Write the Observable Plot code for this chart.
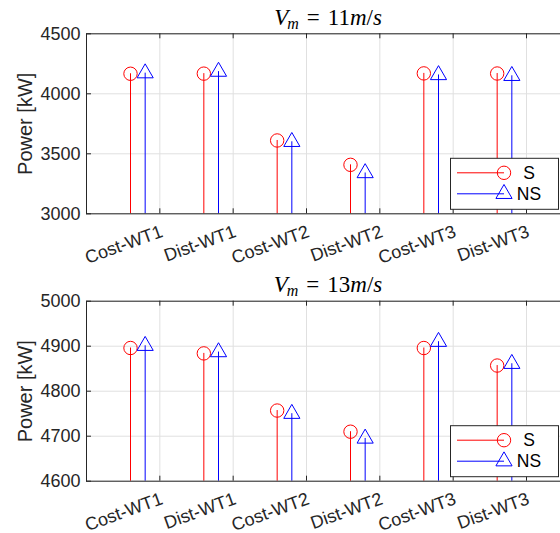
<!DOCTYPE html>
<html>
<head>
<meta charset="utf-8">
<script src="https://cdn.jsdelivr.net/npm/d3@7"></script>
<script src="https://cdn.jsdelivr.net/npm/@observablehq/plot@0.6"></script>
<style>
  html, body { margin: 0; padding: 0; background: #fff; overflow: hidden; }
  #chart { position: relative; width: 560px; height: 533px; overflow: hidden; }
  #chart svg { position: absolute; left: 0; overflow: visible; }
</style>
</head>
<body>
<div id="chart"></div>
<script>
// Wind-turbine power per strategy, S vs NS at two mean wind speeds
const categories = ["Cost-WT1", "Dist-WT1", "Cost-WT2", "Dist-WT2", "Cost-WT3", "Dist-WT3"];
const seriesNames = ["S", "NS"];
const windSpeeds = [11, 13];

// Vm = 11 m/s
const s11 = [4167, 4168, 3611, 3408, 4170, 4169];
const ns11 = [4172, 4185, 3600, 3340, 4157, 4150];
const yDomain11 = [3000, 4500];
const yTicks11 = [3000, 3500, 4000, 4500];

// Vm = 13 m/s
const s13 = [4896, 4884, 4757, 4710, 4896, 4857];
const ns13 = [4901, 4887, 4750, 4695, 4910, 4861];
const yDomain13 = [4600, 5000];
const yTicks13 = [4600, 4700, 4800, 4900, 5000];

const yLabel = "Power [kW]";

const INK = "#262626";
const GRID = "#e0e0e0";
const COLORS = {S: "#ff0000", NS: "#0000ff"};
const OFFSET = {S: -0.4, NS: -0.2};   // stems sit left of each category tick
const SANS = "'Liberation Sans', Arial, Helvetica, sans-serif";
const SERIF = "'Liberation Serif', 'Times New Roman', serif";

const chart = document.getElementById("chart");

function panel({top, height, marginTop, marginBottom, yDomain, yTicks, s, ns, speed}) {
  const width = 560, marginLeft = 86, marginRight = -10;
  const xDomain = [0, 6.6];
  const plotH = height - marginTop - marginBottom;
  const plotW = width - marginLeft - marginRight;
  const catTicks = categories.map((c, i) => i + 1);

  const rows = seriesNames.map((name, k) =>
    categories.map((c, i) => ({cat: c, idx: i + 1, series: name, value: (k === 0 ? s : ns)[i]}))
  );

  const stemMarks = rows.flatMap((data, k) => {
    const name = seriesNames[k];
    return [
      Plot.ruleX(data, {x: d => d.idx + OFFSET[name], y1: yDomain[0], y2: "value", stroke: COLORS[name], strokeWidth: 1}),
      Plot.dot(data, {
        x: d => d.idx + OFFSET[name], y: "value",
        symbol: name === "S" ? "circle" : "triangle",
        r: name === "S" ? 6.7 : 6,
        stroke: COLORS[name], fill: "none", strokeWidth: 1
      })
    ];
  });

  const plot = Plot.plot({
    width, height, marginTop, marginBottom, marginLeft, marginRight,
    style: {fontFamily: SANS, fontSize: "18px", color: INK, background: "transparent", overflow: "visible"},
    x: {type: "linear", domain: xDomain, axis: null},
    y: {type: "linear", domain: yDomain, axis: null},
    marks: [
      Plot.gridX(catTicks, {stroke: GRID, strokeOpacity: 1, strokeWidth: 1}),
      Plot.gridY(yTicks, {stroke: GRID, strokeOpacity: 1, strokeWidth: 1}),
      ...stemMarks,
      // inward tick marks on the box
      Plot.tickX(catTicks, {x: d => d, insetTop: plotH - 5, stroke: INK}),
      Plot.tickX(catTicks, {x: d => d, insetBottom: plotH - 5, stroke: INK}),
      Plot.tickY(yTicks, {y: d => d, insetRight: plotW - 5, stroke: INK}),
      Plot.frame({stroke: INK, strokeWidth: 1}),
      Plot.text(yTicks, {y: d => d, text: d => String(d), frameAnchor: "left", dx: -6, textAnchor: "end", fill: INK, fontSize: 18}),
      Plot.text(categories, {
        x: (d, i) => i + 1, text: d => d, frameAnchor: "bottom", rotate: -20,
        textAnchor: "end", lineAnchor: "middle", dx: 2, dy: 17, fill: INK, fontSize: 18
      }),
      Plot.text([yLabel], {frameAnchor: "left", rotate: -90, dx: -61, textAnchor: "middle", fill: INK, fontSize: 20})
    ]
  });

  plot.style.top = top + "px";
  chart.appendChild(plot);

  const svg = d3.select(plot);
  const xs = plot.scale("x");
  const left = xs.apply(xDomain[0]), right = xs.apply(xDomain[1]);
  const bottom = marginTop + plotH;

  // title: V_m = <speed> m/s, set in math style
  const t = svg.append("text")
    .attr("x", (left + right) / 2)
    .attr("y", marginTop - 8.3)
    .attr("text-anchor", "middle")
    .attr("font-family", SERIF)
    .attr("font-size", 23)
    .attr("fill", "#000");
  t.append("tspan").attr("font-style", "italic").text("V");
  t.append("tspan").attr("font-style", "italic").attr("font-size", 16).attr("dy", 4).attr("dx", -1).text("m");
  t.append("tspan").attr("dy", -4).attr("dx", 8).text("=");
  t.append("tspan").attr("dx", 8).text(String(speed));
  t.append("tspan").attr("font-style", "italic").text("m");
  t.append("tspan").text("/");
  t.append("tspan").attr("font-style", "italic").text("s");

  // legend box, lower right of the axes
  const lx0 = right - 119.5, lx1 = right - 11.5;
  const ly0 = bottom - 55, ly1 = bottom - 4;
  const g = svg.append("g");
  g.append("rect").attr("x", lx0).attr("y", ly0).attr("width", lx1 - lx0).attr("height", ly1 - ly0)
    .attr("fill", "#fff").attr("stroke", INK).attr("stroke-width", 1);
  const rowsY = {S: bottom - 40.5, NS: bottom - 19.5};
  seriesNames.forEach(name => {
    const y = rowsY[name];
    const mx = lx0 + 53.5;
    g.append("line").attr("x1", lx0 + 6.5).attr("x2", mx).attr("y1", y).attr("y2", y)
      .attr("stroke", COLORS[name]).attr("stroke-width", 1);
    const sym = name === "S" ? d3.symbolCircle : d3.symbolTriangle;
    const r = name === "S" ? 6.7 : 6;
    g.append("path").attr("d", d3.symbol(sym, Math.PI * r * r)())
      .attr("transform", `translate(${mx},${y})`)
      .attr("fill", "none").attr("stroke", COLORS[name]).attr("stroke-width", 1);
    g.append("text").attr("x", lx0 + 78.5).attr("y", y).attr("dy", "0.35em")
      .attr("font-family", SANS).attr("font-size", 17.5).attr("fill", "#000").text(name);
  });
}

panel({top: 0, height: 260, marginTop: 33.3, marginBottom: 46.7, yDomain: yDomain11, yTicks: yTicks11, s: s11, ns: ns11, speed: windSpeeds[0]});
panel({top: 260, height: 273, marginTop: 40.7, marginBottom: 52.3, yDomain: yDomain13, yTicks: yTicks13, s: s13, ns: ns13, speed: windSpeeds[1]});
</script>
</body>
</html>
